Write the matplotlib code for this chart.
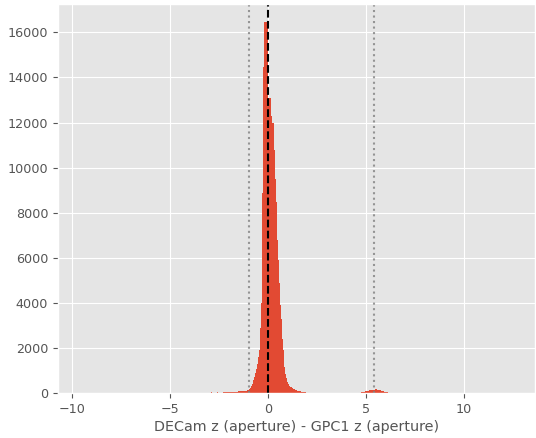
import numpy as np
import matplotlib
matplotlib.use("Agg")
import matplotlib.pyplot as plt

plt.style.use("ggplot")

# Histogram data (bin width 0.05)
bin_width = 0.05
main_start = -3.0
main_counts = [
    0, 0, 25, 0, 0, 0, 0, 0, 25, 0, 0, 20, 0, 20,
    30, 35, 30, 40, 35, 40, 45, 40, 45, 50, 45, 55, 50, 60, 60,
    65, 70, 75, 80, 85, 90, 95, 100, 105, 110, 120,
    140, 170, 220,
    300, 420, 580, 720, 900, 1050, 1300, 1600, 1900, 2900, 4000, 8865, 14450,
    16480, 16480, 16480, 16480,
    13080, 13080, 13080, 12300, 11970, 11970, 10800, 9500, 8470, 6800,
    5900, 4900, 3900, 3300, 2400, 1900, 1450, 1150, 850, 650,
    500, 420, 320, 280, 250, 210, 180, 170, 150, 130,
    110, 100, 90, 80, 60, 55, 50, 40, 30,
]
bump_start = 4.65
bump_counts = [
    10, 20, 25, 35, 45, 60, 70, 85, 95, 105, 115, 125, 135, 140, 150,
    155, 160, 160, 155, 150, 140, 125, 110, 95, 80, 65, 55, 45, 35, 25, 20, 15, 10,
]

median_line = 0.0
limit_lines = [-0.95, 5.42]
xlabel = "DECam z (aperture) - GPC1 z (aperture)"

def make_edges(start, n):
    return np.round(start + bin_width * np.arange(n + 1), 6)

edges_main = make_edges(main_start, len(main_counts))
edges_bump = make_edges(bump_start, len(bump_counts))
centers = []
weights = []
for e, c in ((edges_main, main_counts), (edges_bump, bump_counts)):
    centers.extend(list((e[:-1] + e[1:]) / 2))
    weights.extend(c)
bins = np.concatenate([edges_main, edges_bump])

fig = plt.figure(figsize=(5.36, 4.38), dpi=100)
ax = fig.add_axes([0.1082, 0.1027, 0.8898, 0.8882])

ax.hist(centers, bins=bins, weights=weights, color="#E24A33",
        edgecolor="none", linewidth=0)
ax.axvline(median_line, color="k", linestyle="--", linewidth=1.5)
for v in limit_lines:
    ax.axvline(v, color="grey", linestyle=":", linewidth=1.5, alpha=0.8)

ax.set_xlim(-10.7, 13.62)
ax.set_ylim(0, 17260)
ax.set_xlabel(xlabel, fontsize=10.4, labelpad=3)
ax.set_xticks([-10, -5, 0, 5, 10])
ax.set_yticks(np.arange(0, 16001, 2000))
ax.tick_params(labelsize=9.2)

fig.savefig("out.png", dpi=100)
